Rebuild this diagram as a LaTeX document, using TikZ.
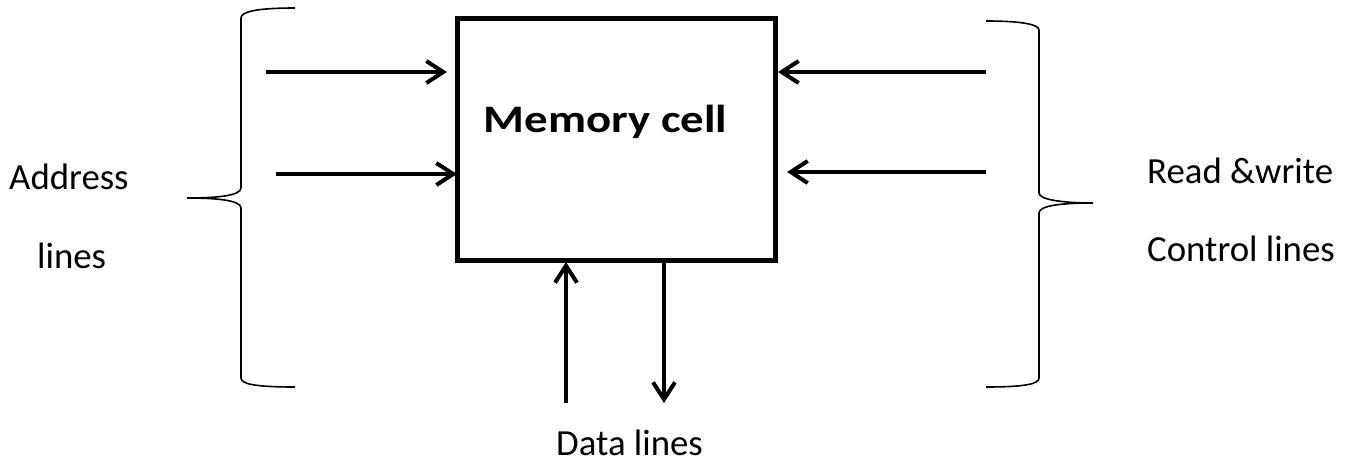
\documentclass[tikz,border=0pt]{standalone}
\usepackage{fontspec}
\setmainfont{Carlito}
\usetikzlibrary{arrows.meta}
\tikzset{
  conn/.style={line width=4pt, -{Straight Barb[length=17pt,width=22pt,line width=4pt]}},
  brace/.style={line width=1.6pt},
  lbl/.style={anchor=base west, inner sep=0pt, font=\fontsize{36.8}{44}\selectfont},
  cellbox/.style={draw, line width=5pt, minimum width=318pt, minimum height=242pt, inner sep=0pt}
}
\begin{document}
\begin{tikzpicture}[x=1pt,y=-1pt]
\useasboundingbox (0,0) rectangle (1353,464);
\node[cellbox] (cell) at (616,139) {};
\node[anchor=base, inner sep=0pt, font=\fontsize{39}{47}\selectfont\bfseries] (title) at (605.5,132) {\scalebox{1.2}[1]{Memory cell}};
% coordinates
\coordinate (a1s) at (266,72);  \coordinate (a1e) at (447,72);
\coordinate (a2s) at (276,174); \coordinate (a2e) at (457,174);
\coordinate (c1s) at (986,72);  \coordinate (c1e) at (778,72);
\coordinate (c2s) at (986,172); \coordinate (c2e) at (787,172);
\coordinate (d1s) at (566,403); \coordinate (d1e) at (566,262);
\coordinate (d2s) at (664,262); \coordinate (d2e) at (664,403);
\draw[conn] (a1s) -- (a1e);
\draw[conn] (a2s) -- (a2e);
\draw[conn] (c1s) -- (c1e);
\draw[conn] (c2s) -- (c2e);
\draw[conn] (d1s) -- (d1e);
\draw[conn] (d2s) -- (d2e);
% left brace
\coordinate (lbt) at (295,8); \coordinate (lbm) at (187,198); \coordinate (lbb) at (295,387);
\draw[brace] (lbt) .. controls (255,8) and (241,12) .. (241,18) -- (241,188)
  .. controls (241,196) and (215,198) .. (lbm)
  .. controls (215,198) and (241,200) .. (241,208) -- (241,378)
  .. controls (241,384) and (255,387) .. (lbb);
% right brace
\coordinate (rbt) at (986,21); \coordinate (rbm) at (1093,203); \coordinate (rbb) at (986,387);
\draw[brace] (rbt) .. controls (1025,21) and (1039,25) .. (1039,30) -- (1039,193)
  .. controls (1039,200) and (1065,203) .. (rbm)
  .. controls (1065,203) and (1039,205) .. (1039,213) -- (1039,378)
  .. controls (1039,384) and (1025,387) .. (rbb);
\node[lbl] (addr) at (9,189) {Address};
\node[lbl] (lines) at (37,268) {lines};
\node[lbl] (rw) at (1147,183) {Read \&write};
\node[lbl] (ctrl) at (1147,261) {Control lines};
\node[lbl] (data) at (556,455) {Data lines};
\end{tikzpicture}
\end{document}
